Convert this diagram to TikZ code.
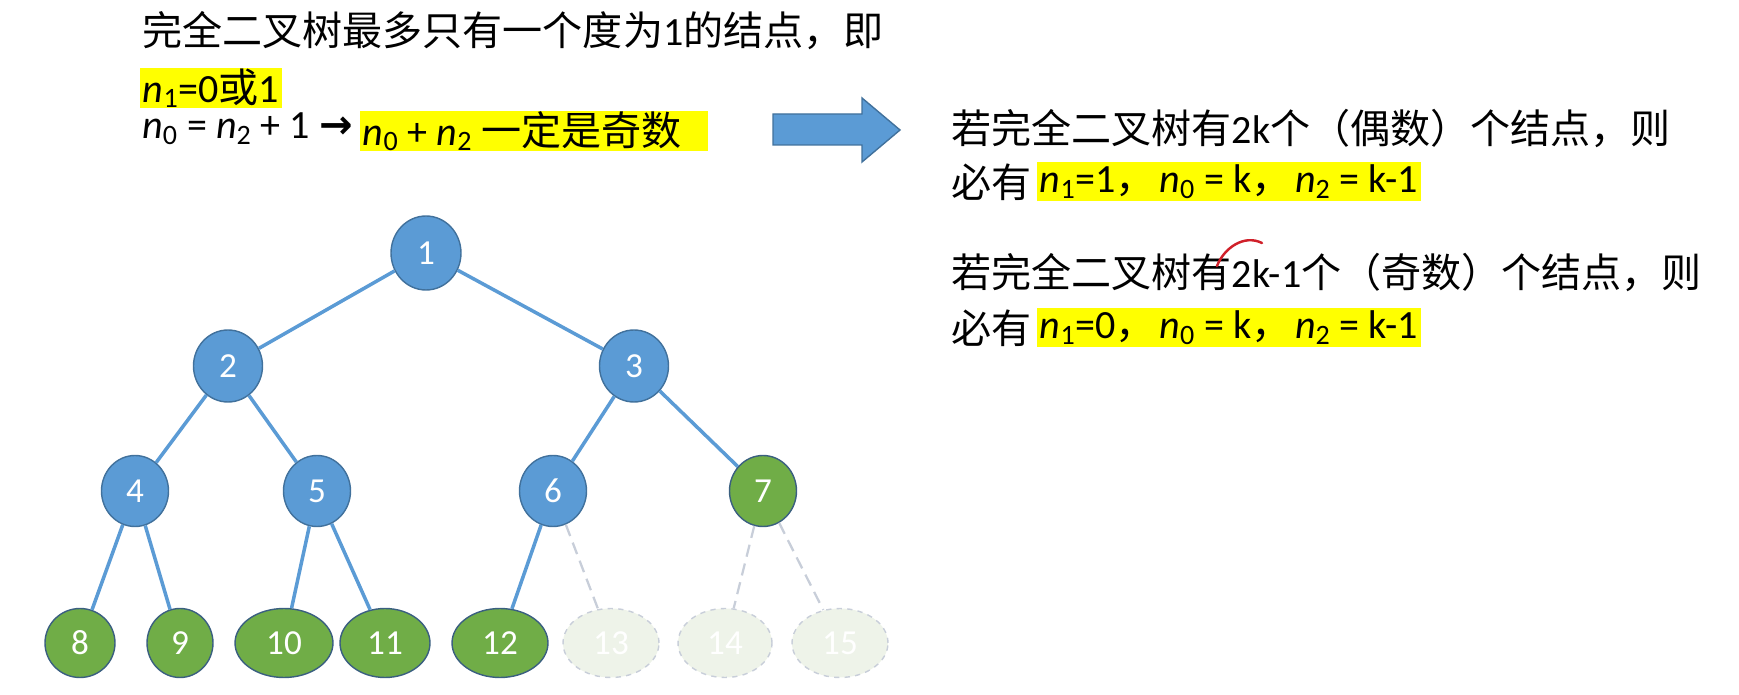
\documentclass[tikz,border=0pt]{standalone}
\usepackage{fontspec}
\setmainfont{Carlito}
\newfontfamily\cjk{Noto Sans CJK SC}
\newfontfamily\symfont{DejaVu Sans}
\usetikzlibrary{shapes.geometric}

\definecolor{treeblue}{HTML}{5B9BD5}
\definecolor{treeline}{HTML}{41719C}
\definecolor{greenline}{HTML}{3A5F80}
\definecolor{treegreen}{HTML}{70AD47}
\definecolor{fadefill}{HTML}{EEF3E9}
\definecolor{fadeline}{HTML}{C8CED9}
\definecolor{marker}{HTML}{FFFF00}
\definecolor{pen}{HTML}{D0202A}

\newcommand{\nv}[1]{\textit{n}\textsubscript{#1}}

\tikzset{
  every node/.style={font=\fontsize{22.8}{26}\selectfont},
  txt/.style={anchor=west, inner sep=0pt},
  hilite/.style={anchor=west, fill=marker, inner xsep=1.5pt, inner ysep=0pt, minimum height=0.78cm},
  bnode/.style={ellipse, draw=treeline, line width=0.8pt, fill=treeblue, text=white, inner sep=0pt, font=\fontsize{20}{22}\selectfont},
  gnode/.style={bnode, draw=greenline, fill=treegreen},
  fnode/.style={bnode, draw=fadeline, dashed, fill=fadefill},
  edge/.style={draw=treeblue, line width=2pt},
  fedge/.style={draw=fadeline, line width=1.3pt, dash pattern=on 7pt off 4pt}
}

\begin{document}
\begin{tikzpicture}[x=0.02cm,y=-0.02cm]
\useasboundingbox (0,0) rectangle (1739,695);

% left text
\node[txt] (l1) at (142,31) {{\cjk 完全二叉树最多只有一个度为}1{\cjk 的结点，即}};
\node[hilite] (l2) at (140,88) {\nv{1}=0{\cjk 或}1};
\node[txt] (l3) at (142,129) {\nv{0} = \nv{2} + 1 {\symfont\bfseries →}};
\node[hilite] (l3b) at (360,131) {\makebox[6.85cm][l]{\nv{0} + \nv{2} {\cjk 一定是奇数}}};

% block arrow
\draw[fill=treeblue, draw=treeline, line width=0.8pt]
  (773,114) -- (862,114) -- (862,98) -- (900,130) -- (862,162) -- (862,145) -- (773,145) -- cycle;

% right text
\node[txt] (r1) at (951,129) {{\cjk 若完全二叉树有}2k{\cjk 个（偶数）个结点，则}};
\node[txt] (r2) at (951,182) {\cjk 必有};
\node[hilite] (r2b) at (1037,182) {\nv{1}=1{\cjk ，}\hspace{2pt}\nv{0} = k{\cjk ，}\hspace{2pt}\nv{2} = k-1};
\node[txt] (r3) at (951,273) {{\cjk 若完全二叉树有}2k-1{\cjk 个（奇数）个结点，则}};
\node[txt] (r4) at (951,328) {\cjk 必有};
\node[hilite] (r4b) at (1037,328) {\nv{1}=0{\cjk ，}\hspace{2pt}\nv{0} = k{\cjk ，}\hspace{2pt}\nv{2} = k-1};
\draw[pen, line width=1.4pt, line cap=round] (1217,266) .. controls (1224,248) and (1244,234) .. (1262,243);

% tree
\node[bnode, minimum width=1.40cm, minimum height=1.48cm] (n1) at (426,253) {1};
\node[bnode, minimum width=1.38cm, minimum height=1.44cm] (n2) at (228,366) {2};
\node[bnode, minimum width=1.38cm, minimum height=1.44cm] (n3) at (634,366) {3};
\node[bnode, minimum width=1.34cm, minimum height=1.42cm] (n4) at (135,491) {4};
\node[bnode, minimum width=1.34cm, minimum height=1.42cm] (n5) at (317,491) {5};
\node[bnode, minimum width=1.34cm, minimum height=1.42cm] (n6) at (553,491) {6};
\node[gnode, minimum width=1.34cm, minimum height=1.42cm] (n7) at (763,491) {7};
\node[gnode, minimum width=1.40cm, minimum height=1.38cm] (n8) at (80,643) {8};
\node[gnode, minimum width=1.32cm, minimum height=1.38cm] (n9) at (180,643) {9};
\node[gnode, minimum width=1.96cm, minimum height=1.38cm] (n10) at (284,643) {10};
\node[gnode, minimum width=1.80cm, minimum height=1.38cm] (n11) at (385,643) {11};
\node[gnode, minimum width=1.92cm, minimum height=1.38cm] (n12) at (500,643) {12};
\node[fnode, minimum width=1.92cm, minimum height=1.38cm] (n13) at (611,643) {13};
\node[fnode, minimum width=1.88cm, minimum height=1.38cm] (n14) at (725,643) {14};
\node[fnode, minimum width=1.92cm, minimum height=1.38cm] (n15) at (840,643) {15};

\draw[edge] (n1) -- (n2);
\draw[edge] (n1) -- (n3);
\draw[edge] (n2) -- (n4);
\draw[edge] (n2) -- (n5);
\draw[edge] (n3) -- (n6);
\draw[edge] (n3) -- (n7);
\draw[edge] (n4) -- (n8);
\draw[edge] (n4) -- (n9);
\draw[edge] (n5) -- (n10);
\draw[edge] (n5) -- (n11);
\draw[edge] (n6) -- (n12);
\draw[fedge] (n6) -- (n13);
\draw[fedge] (n7) -- (n14);
\draw[fedge] (n7) -- (n15);
\end{tikzpicture}
\end{document}
